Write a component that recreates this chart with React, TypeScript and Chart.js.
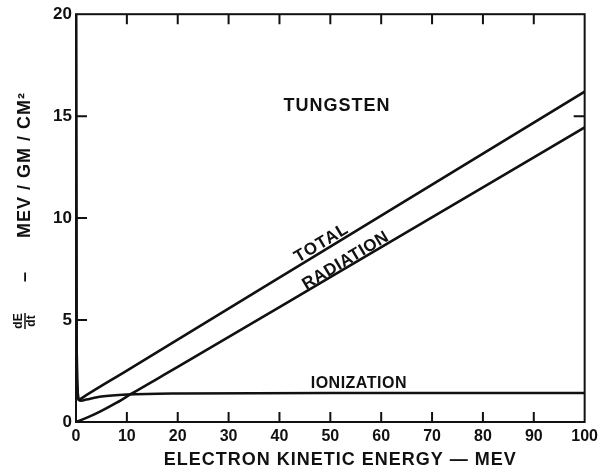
import React, { useEffect, useRef } from "react";
import { Chart, registerables } from "chart.js";

Chart.register(...registerables);

// Electron energy loss in tungsten (MeV / g / cm^2) vs electron kinetic energy (MeV)
const totalEnergy = [0, 0.1, 0.3, 0.6, 1, 10, 50, 100];
const totalLoss = [20, 5, 1.6, 1.08, 1.15, 2.52, 8.6, 16.2];

const radiationEnergy = [0, 2.5, 5, 8, 11, 20, 50, 100];
const radiationLoss = [0, 0.25, 0.55, 0.95, 1.4, 2.7, 7.1, 14.45];

const ionizationEnergy = [0, 0.1, 0.3, 0.6, 1, 2, 5, 10, 20, 50, 100];
const ionizationLoss = [20, 5, 1.6, 1.08, 1.05, 1.1, 1.25, 1.35, 1.4, 1.42, 1.42];

const xTickValues = [0, 10, 20, 30, 40, 50, 60, 70, 80, 90, 100];
const yTickValues = [0, 5, 10, 15, 20];
const bottomInnerTicks = [10, 20, 30, 40, 50, 60, 70, 80, 90];
const topInnerTicks = [10, 20, 30, 40, 50, 60, 70, 80, 90];
const leftInnerTicks = [5, 10, 15];
const rightInnerTicks = [15];

const FONT = "'Liberation Sans', Arial, sans-serif";
const INK = "#111";

const toPoints = (xs: number[], ys: number[]) => xs.map((x, i) => ({ x, y: ys[i] }));

export default function App() {
  const ref = useRef<HTMLCanvasElement | null>(null);

  useEffect(() => {
    document.body.style.margin = "0";
    const canvas = ref.current;
    if (!canvas) return;

    const annotations = [
      { text: "TUNGSTEN", x: 51.3, y: 15.5, angle: 0, size: 18, spacing: 1 },
      { text: "TOTAL", x: 48.3, y: 8.77, angle: -31, size: 17, spacing: 1 },
      { text: "RADIATION", x: 53.0, y: 7.9, angle: -31, size: 17, spacing: 0.5 },
      { text: "IONIZATION", x: 55.6, y: 1.9, angle: 0, size: 16, spacing: 0.5 },
    ];

    const decor = {
      id: "decor",
      afterDraw(chart: any) {
        const { ctx, chartArea: a } = chart;
        const xs = chart.scales.x;
        const ys = chart.scales.y;
        ctx.save();
        ctx.strokeStyle = INK;
        ctx.lineWidth = 2;
        ctx.strokeRect(a.left, a.top, a.right - a.left, a.bottom - a.top);
        ctx.beginPath();
        bottomInnerTicks.forEach((v) => {
          const px = xs.getPixelForValue(v);
          ctx.moveTo(px, a.bottom);
          ctx.lineTo(px, a.bottom - 10);
        });
        topInnerTicks.forEach((v) => {
          const px = xs.getPixelForValue(v);
          ctx.moveTo(px, a.top);
          ctx.lineTo(px, a.top + 10);
        });
        leftInnerTicks.forEach((v) => {
          const py = ys.getPixelForValue(v);
          ctx.moveTo(a.left, py);
          ctx.lineTo(a.left + 11, py);
        });
        rightInnerTicks.forEach((v) => {
          const py = ys.getPixelForValue(v);
          ctx.moveTo(a.right, py);
          ctx.lineTo(a.right - 11, py);
        });
        ctx.stroke();

        ctx.fillStyle = INK;
        ctx.textAlign = "center";
        ctx.textBaseline = "middle";
        annotations.forEach((an) => {
          ctx.save();
          ctx.translate(xs.getPixelForValue(an.x), ys.getPixelForValue(an.y));
          ctx.rotate((an.angle * Math.PI) / 180);
          ctx.font = `bold ${an.size}px ${FONT}`;
          (ctx as any).letterSpacing = `${an.spacing}px`;
          ctx.fillText(an.text, 0, 0);
          ctx.restore();
        });

        // x axis title
        ctx.save();
        ctx.font = `bold 18px ${FONT}`;
        (ctx as any).letterSpacing = "1px";
        ctx.fillText("ELECTRON KINETIC ENERGY \u2014 MEV", (a.left + a.right) / 2 + 10, 460);
        ctx.restore();

        // y axis title
        ctx.save();
        ctx.translate(25, 0);
        ctx.rotate(-Math.PI / 2);
        ctx.font = `bold 18px ${FONT}`;
        (ctx as any).letterSpacing = "1px";
        ctx.fillText("MEV / GM / CM\u00B2", -165, 0);
        (ctx as any).letterSpacing = "0px";
        ctx.fillText("\u2013", -277, 0);
        ctx.font = `bold 12px ${FONT}`;
        ctx.fillText("dE", -321, -6);
        ctx.fillText("dt", -321, 6.5);
        ctx.lineWidth = 1.5;
        ctx.beginPath();
        ctx.moveTo(-329, 0);
        ctx.lineTo(-313, 0);
        ctx.stroke();
        ctx.restore();

        ctx.restore();
      },
    };

    const lineStyle = {
      showLine: true,
      borderColor: INK,
      borderWidth: 2.6,
      pointRadius: 0,
      fill: false,
      cubicInterpolationMode: "monotone" as const,
    };

    const chart = new Chart(canvas, {
      type: "scatter",
      data: {
        datasets: [
          { label: "Total", data: toPoints(totalEnergy, totalLoss), ...lineStyle },
          { label: "Radiation", data: toPoints(radiationEnergy, radiationLoss), ...lineStyle },
          { label: "Ionization", data: toPoints(ionizationEnergy, ionizationLoss), ...lineStyle },
        ],
      },
      options: {
        responsive: false,
        animation: false,
        devicePixelRatio: 1,
        layout: { padding: { left: 0, right: 16, top: 14, bottom: 0 } },
        plugins: { legend: { display: false }, tooltip: { enabled: false } },
        scales: {
          x: {
            type: "linear",
            min: 0,
            max: 100,
            afterBuildTicks: (s: any) => {
              s.ticks = xTickValues.map((v) => ({ value: v }));
            },
            afterFit: (s: any) => {
              s.height = 54;
            },
            grid: { display: false, drawTicks: false },
            border: { display: false },
            ticks: {
              autoSkip: false,
              maxRotation: 0,
              padding: 5,
              color: INK,
              font: { family: FONT, size: 16, weight: "bold" },
            },
          },
          y: {
            type: "linear",
            min: 0,
            max: 20,
            afterBuildTicks: (s: any) => {
              s.ticks = yTickValues.map((v) => ({ value: v }));
            },
            afterFit: (s: any) => {
              s.width = 76;
            },
            grid: { display: false, drawTicks: false },
            border: { display: false },
            ticks: {
              padding: 4,
              color: INK,
              font: { family: FONT, size: 17, weight: "bold" },
            },
          },
        },
      },
      plugins: [decor],
    } as any);

    return () => chart.destroy();
  }, []);

  return <canvas ref={ref} width={603} height={476} style={{ display: "block" }} />;
}
